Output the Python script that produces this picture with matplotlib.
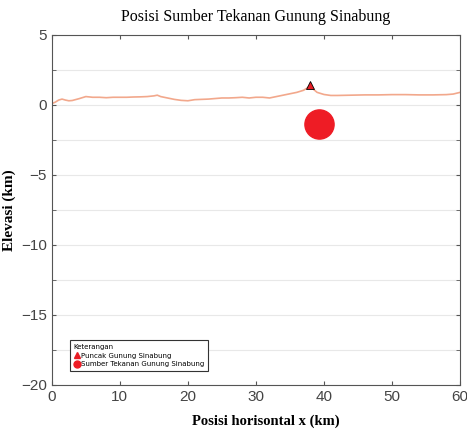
import matplotlib.pyplot as plt
from matplotlib.lines import Line2D

# topography profile (km)
topo_x = [0, 0.5, 1, 1.5, 2, 2.5, 3, 4, 5, 6, 7, 8, 9, 10, 11, 12, 13, 14, 15, 15.5,
          16, 17, 18, 19, 20, 21, 22, 23, 24, 25, 26, 27, 28, 29, 30, 31, 32, 33,
          34, 35, 36, 37, 37.5, 38, 38.5, 39, 40, 41, 42, 44, 46, 48, 50, 52, 54,
          56, 58, 59, 60]
topo_y = [0.1, 0.2, 0.35, 0.42, 0.35, 0.3, 0.32, 0.45, 0.6, 0.55, 0.55, 0.52, 0.55,
          0.55, 0.55, 0.57, 0.58, 0.6, 0.65, 0.7, 0.6, 0.5, 0.4, 0.33, 0.3, 0.38,
          0.4, 0.42, 0.46, 0.5, 0.5, 0.52, 0.55, 0.5, 0.55, 0.55, 0.5, 0.6, 0.7,
          0.8, 0.9, 1.05, 1.2, 1.38, 1.1, 0.9, 0.75, 0.68, 0.68, 0.7, 0.72, 0.72,
          0.74, 0.74, 0.72, 0.72, 0.74, 0.78, 0.9]

peak_x, peak_y = 38, 1.4
source_x, source_y = 39.3, -1.35

fig = plt.figure(figsize=(4.67, 4.32), dpi=100)
ax = fig.add_axes([0.111, 0.109, 0.874, 0.81])

ax.plot(topo_x, topo_y, color='#f2a88c', lw=1.2)
ax.plot(peak_x, peak_y, marker='^', ms=6, color='#e81c24', mec='black', mew=0.6,
        ls='none')
ax.plot(source_x, source_y, marker='o', ms=21, color='#ee1c25', mec='#ee1c25',
        ls='none')

ax.set_xlim(0, 60)
ax.set_ylim(-20, 5)
ax.set_xticks(range(0, 61, 10))
ax.set_yticks(range(-20, 6, 5))
ax.set_yticks([-17.5, -12.5, -7.5, -2.5, 2.5], minor=True)
ax.grid(axis='y', which='both', color='#e8e8e8', lw=0.8)
ax.set_axisbelow(True)
ax.tick_params(which='both', direction='in', top=True, right=True, length=3,
               labelsize=11, labelcolor='#444444', color='#555555')
for lab in ax.get_xticklabels() + ax.get_yticklabels():
    lab.set_family('Liberation Sans')
for s in ax.spines.values():
    s.set_color('#555555')

ax.set_title('Posisi Sumber Tekanan Gunung Sinabung', family='Liberation Serif',
             fontsize=11.5, pad=10)
ax.set_xlabel('Posisi horisontal x (km)', family='Liberation Serif',
              fontweight='bold', fontsize=10.5)
ax.xaxis.set_label_coords(0.525, -0.085)
ax.set_ylabel('Elevasi (km)', family='Liberation Serif', fontweight='bold',
              fontsize=11, labelpad=4)

handles = [Line2D([], [], marker='^', color='#e81c24', mec='#e81c24', ls='none', ms=5),
           Line2D([], [], marker='o', color='#ee1c25', ls='none', ms=5)]
leg = ax.legend(handles, ['Puncak Gunung Sinabung', 'Sumber Tekanan Gunung Sinabung'],
                title='Keterangan', loc='lower left', bbox_to_anchor=(0.035, 0.03),
                fontsize=5, title_fontsize=5, fancybox=False, edgecolor='#333333',
                handletextpad=0.2, handlelength=1.0, borderpad=0.5,
                labelspacing=0.4, framealpha=1)
leg._legend_box.align = 'left'
leg.get_frame().set_linewidth(0.8)

fig.savefig('out.png', dpi=100)
